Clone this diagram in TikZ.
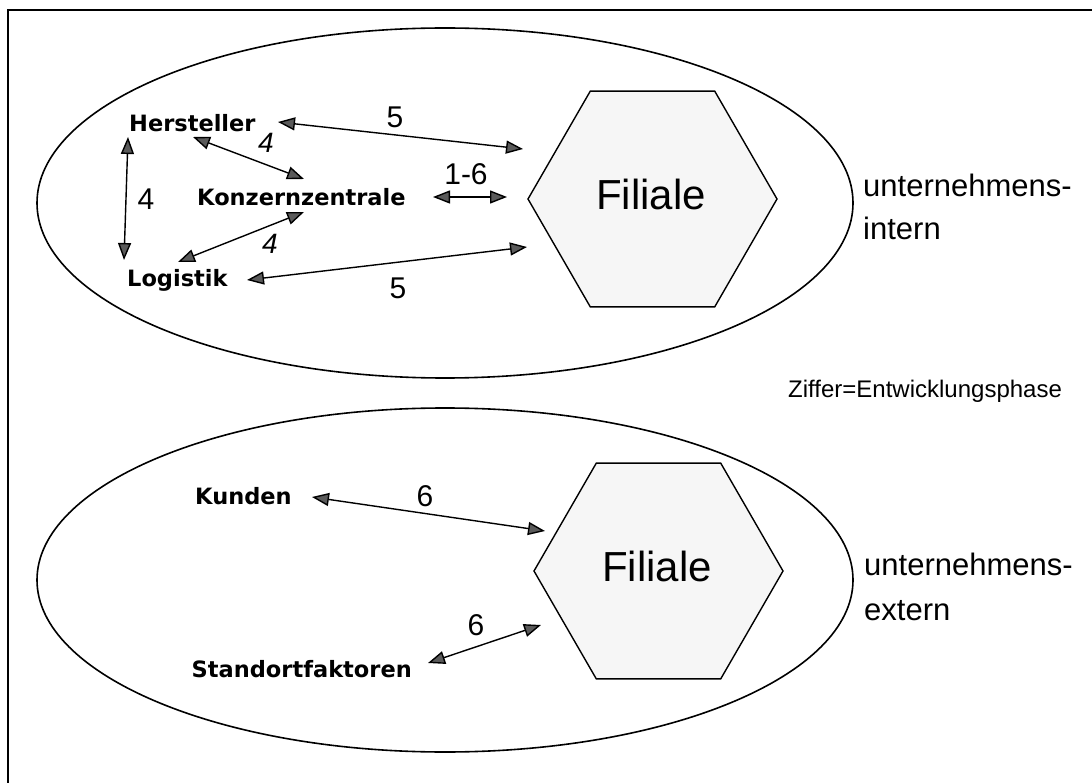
\documentclass[tikz,border=0pt]{standalone}
\usepackage{fontspec}
\setmainfont{Liberation Sans}
\newfontfamily\vb{DejaVu Sans}
\usetikzlibrary{arrows.meta,shapes.geometric,calc}
\definecolor{agray}{HTML}{5A5A5A}
\definecolor{hexfill}{HTML}{F6F6F6}
\begin{document}
\begin{tikzpicture}[x=1pt,y=-1pt,
  lab/.style={font=\vb\bfseries\fontsize{22.5}{27}\selectfont, inner sep=0pt},
  num/.style={font=\fontsize{30}{36}\selectfont, inner sep=0pt},
  snum/.style={font=\itshape\fontsize{28}{34}\selectfont, inner sep=0pt},
  big/.style={font=\fontsize{31}{37}\selectfont, inner sep=0pt, anchor=base west},
  fil/.style={font=\fontsize{42}{50}\selectfont, inner sep=0pt},
  dbl/.style={line width=1.4pt, {Triangle[length=17pt,width=13pt,fill=agray]}-{Triangle[length=17pt,width=13pt,fill=agray]}},
  hex/.style={draw, line width=1.4pt, fill=hexfill, regular polygon, regular polygon sides=6, minimum size=249pt, inner sep=0pt},
  oval/.style={draw, ellipse, line width=1.6pt, inner sep=0pt}]
\useasboundingbox (0,0) rectangle (1092,783);
% frame
\draw[line width=2pt] (8,790) -- (8,9.7) -- (1100,9.7);
% ellipses
\node[oval, minimum width=816pt, minimum height=350pt] (E1) at (445,203) {};
\node[oval, minimum width=816pt, minimum height=344pt] (E2) at (445,580) {};
% hexagons
\node[hex] (F1) at (652.5,199) {};
\node[hex] (F2) at (658.5,571) {};
\node[fil] (F1t) at (651,194) {Filiale};
\node[fil] (F2t) at (657,566) {Filiale};
% labels
\node[lab, anchor=base west] (H) at (129,132) {Hersteller};
\node[lab, anchor=base west] (K) at (197,206) {Konzernzentrale};
\node[lab, anchor=base west] (L) at (127,287) {Logistik};
\node[lab, anchor=base west] (Ku) at (195,504) {Kunden};
\node[lab, anchor=base east] (S) at (412,677) {Standortfaktoren};
% right side texts
\node[big] (U1a) at (863,197) {unternehmens-};
\node[big] (U1b) at (863,240) {intern};
\node[big] (U2a) at (864,575) {unternehmens-};
\node[big] (U2b) at (864,620) {extern};
\node[font=\fontsize{24}{29}\selectfont, inner sep=0pt, anchor=base west] (Z) at (788,397) {Ziffer=Entwicklungsphase};
% connectors
\draw[dbl] ($(H.base west)+(149,-10)$) -- ($(F1.center)+(-129.5,-50)$);
\draw[dbl] ($(H.base west)+(64,5)$) -- ($(K.base west)+(107,-27)$);
\draw[dbl] ($(H.base west)+(-1,5)$) -- ($(L.base west)+(-3,-27)$);
\draw[dbl] ($(K.base west)+(236,-9)$) -- ($(F1.center)+(-145.5,-2)$);
\draw[dbl] ($(K.base west)+(107,6)$) -- ($(L.base west)+(51,-25)$);
\draw[dbl] ($(L.base west)+(120,-7)$) -- ($(F1.center)+(-125.5,48)$);
\draw[dbl] ($(Ku.base west)+(117,-7)$) -- ($(F2.center)+(-113.5,-40)$);
\draw[dbl] ($(S.base east)+(16,-14)$) -- ($(F2.center)+(-117.5,54)$);
% numbers
\node[num] (n1) at (395,117) {5};
\node[snum] (n2) at (266,143) {4};
\node[num] (n3) at (146,199) {4};
\node[num] (n4) at (466,174) {1-6};
\node[snum] (n5) at (270,244) {4};
\node[num] (n6) at (398,288) {5};
\node[num] (n7) at (425,496) {6};
\node[num] (n8) at (476,625) {6};
\end{tikzpicture}
\end{document}
